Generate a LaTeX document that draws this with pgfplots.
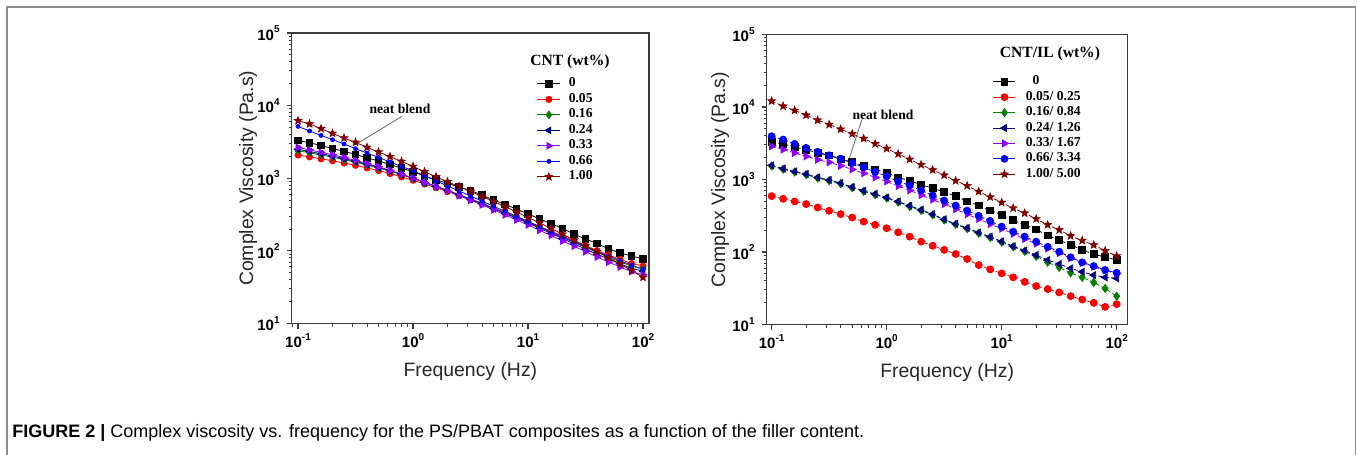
\documentclass[border=0pt]{standalone}
\usepackage{fontspec}
\setmainfont{Liberation Sans}
\newfontfamily\tnr{Liberation Serif}
\usepackage{pgfplots}
\usepackage{pgfplotstable}
\pgfplotsset{compat=1.18}

\definecolor{cblack}{RGB}{0,0,0}
\definecolor{cred}{RGB}{255,0,0}
\definecolor{cgreen}{RGB}{0,128,0}
\definecolor{cnavy}{RGB}{0,0,128}
\definecolor{cpurple}{RGB}{140,0,255}
\definecolor{cblue}{RGB}{0,0,255}
\definecolor{cwine}{RGB}{128,0,0}
\definecolor{axgray}{RGB}{60,60,60}

\pgfdeclareplotmark{fstar}{%
 \pgfpathmoveto{\pgfpointpolar{90}{1.3\pgfplotmarksize}}%
 \pgfpathlineto{\pgfpointpolar{126}{0.55\pgfplotmarksize}}%
 \pgfpathlineto{\pgfpointpolar{162}{1.3\pgfplotmarksize}}%
 \pgfpathlineto{\pgfpointpolar{198}{0.55\pgfplotmarksize}}%
 \pgfpathlineto{\pgfpointpolar{234}{1.3\pgfplotmarksize}}%
 \pgfpathlineto{\pgfpointpolar{270}{0.55\pgfplotmarksize}}%
 \pgfpathlineto{\pgfpointpolar{306}{1.3\pgfplotmarksize}}%
 \pgfpathlineto{\pgfpointpolar{342}{0.55\pgfplotmarksize}}%
 \pgfpathlineto{\pgfpointpolar{18}{1.3\pgfplotmarksize}}%
 \pgfpathlineto{\pgfpointpolar{54}{0.55\pgfplotmarksize}}%
 \pgfpathclose\pgfusepathqfillstroke}

\newcommand{\tickfont}{\bfseries\fontsize{7.5}{8}\selectfont}
\newcommand{\tlab}[1]{10\raisebox{0.5em}{\fontsize{5}{5}\selectfont #1}}
\newcommand{\labfont}{\fontsize{9.7}{11}\selectfont}
\newcommand{\legfont}{\tnr\bfseries\fontsize{6.8}{7}\selectfont}
\newcommand{\legtfont}{\tnr\bfseries\fontsize{7.8}{9}\selectfont}
\newcommand{\capfont}{\fontsize{9}{10}\selectfont}

\pgfplotstableread{
f c0 c05 c16 c24 c33 c66 c100
0.1 3311 2089 2399 2512 2661 5176 6209
0.1259 3090 1968 2239 2339 2460 4477 5598
0.1585 2818 1849 2094 2173 2275 3890 4819
0.1995 2570 1742 1954 2023 2109 3396 4150
0.2512 2344 1622 1803 1862 1928 2965 3581
0.3162 2138 1507 1667 1710 1762 2553 3119
0.3981 1905 1387 1521 1556 1592 2228 2661
0.5012 1738 1276 1387 1416 1439 1936 2296
0.6310 1549 1159 1253 1271 1285 1675 1982
0.7943 1380 1042 1117 1130 1138 1455 1706
1 1230 938 995 1005 1005 1268 1455
1.259 1072 832 879 881 877 1084 1230
1.585 955 740 774 774 766 923 1050
1.995 851 658 682 681 668 785 895
2.512 759 577 596 590 577 668 771
3.162 676 507 519 513 499 569 661
3.981 589 446 452 446 431 484 562
5.012 501 386 390 382 367 412 479
6.310 437 336 336 328 313 351 407
7.943 376 292 289 282 267 299 343
10 324 253 249 242 228 254 288
12.59 275 217 212 205 192 216 243
15.85 237 187 181 174 163 182 204
19.95 204 160 154 148 137 155 170
25.12 170 137 131 125 116 132 141
31.62 146 118 112 106 97.5 114 117
39.81 126 101 95.3 90.2 82.2 97.7 97.7
50.12 107 87.9 82.0 77.4 70.1 85.1 80.4
63.10 93.3 76.4 70.6 66.5 60.0 73.3 66.1
79.43 85.1 67.0 61.7 57.7 51.8 63.8 53.7
100 77.6 61.7 56.2 52.5 46.8 55.6 43.2
}\tabL

\pgfplotstableread{
f c0 c05 c16 c24 c33 c66 c100
0.1 3311 590 1536 1567 2871 3954 12078
0.1259 3090 542 1385 1413 2588 3556 10280
0.1585 2818 498 1268 1294 2328 3105 8974
0.1995 2570 458 1167 1191 2089 2729 7727
0.2512 2344 411 1048 1069 1879 2404 6592
0.3162 2138 370 964 984 1726 2158 5741
0.3981 1905 333 875 893 1549 1941 4943
0.5012 1738 299 771 787 1380 1694 4266
0.6310 1549 263 686 700 1216 1472 3673
0.7943 1380 237 617 630 1072 1271 3105
1 1230 213 554 565 938 1104 2673
1.259 1072 187 488 498 813 942 2254
1.585 955 163 425 434 708 828 1897
1.995 851 139 374 382 610 706 1603
2.512 759 122 326 333 527 603 1355
3.162 676 107 276 282 458 513 1148
3.981 589 93.8 240 245 389 437 962
5.012 501 80.0 210 214 331 372 820
6.310 437 66.1 182 186 285 316 684
7.943 376 57.5 159 162 243 269 573
10 324 50.7 137 140 209 224 482
12.59 275 44.7 118 120 178 191 403
15.85 237 38.8 102 105 151 163 344
19.95 204 33.8 87.1 90.8 130 139 286
25.12 170 30.8 72.4 77.4 112 118 237
31.62 146 27.7 61.4 68.2 96.6 101 202
39.81 126 24.6 51.6 59.4 82.2 84.5 167
50.12 107 22.1 44.7 53.3 70.8 71.9 144
63.10 93.3 19.9 38.0 48.0 62.4 64.0 125
79.43 85.1 17.5 31.4 44.7 55.6 56.4 104
100 77.6 19.1 24.6 43.3 50.1 51.6 88.1
}\tabR

\begin{document}
\begin{tikzpicture}
\useasboundingbox (0pt,0pt) rectangle (678.5pt,-227.5pt);
\draw[black!45, line width=0.75pt] (3.6pt,-228pt) -- (3.6pt,-3.6pt) -- (677.8pt,-3.6pt) -- (677.8pt,-228pt);

\begin{loglogaxis}[
  scale only axis,
  at={(145.85pt,-161.75pt)}, anchor=south west,
  width=178.65pt, height=145.25pt,
  xmin=0.0881, xmax=112.7, ymin=10, ymax=100000,
  axis line style={axgray, line width=0.75pt},
  major tick style={axgray, line width=0.6pt},
  minor tick style={axgray, line width=0.5pt},
  major tick length=2.5pt, minor tick length=1.5pt,
  tick align=outside, xtick pos=bottom, ytick pos=left,
  xtick={0.1,1,10,100},
  xticklabels={\tlab{-1},\tlab{0},\tlab{1},\tlab{2}},
  minor xtick={0.09,0.2,0.3,0.4,0.5,0.6,0.7,0.8,0.9,2,3,4,5,6,7,8,9,20,30,40,50,60,70,80,90},
  ytick={10,100,1000,10000,100000},
  yticklabels={\tlab{1},\tlab{2},\tlab{3},\tlab{4},\tlab{5}},
  minor ytick={20,30,40,50,60,70,80,90,200,300,400,500,600,700,800,900,2000,3000,4000,5000,6000,7000,8000,9000,20000,30000,40000,50000,60000,70000,80000,90000},
  xticklabel style={font=\tickfont, text=black, yshift=1.2pt},
  yticklabel style={font=\tickfont, text=black},
  xlabel={Frequency (Hz)}, ylabel={Complex Viscosity (Pa.s)},
  every axis y label/.style={at={(axis description cs:-0.1223,0.5)}, rotate=90, anchor=center, font=\labfont, text=black!85},
  every axis x label/.style={at={(axis description cs:0.5,-0.166)}, anchor=center, font=\labfont, text=black!85},
  legend cell align=left,
  legend style={at={(0.6865,0.8516)}, anchor=north west, draw=none, fill=none, inner sep=0pt, outer sep=0pt,
    font=\legfont, row sep=0pt, column sep=4pt,
    nodes={inner sep=0pt, text height=5.4pt, text depth=2.35pt}},
  legend image code/.code={\draw[mark repeat=2,mark phase=2,#1] plot coordinates {(0pt,0pt) (5.75pt,0pt) (11.5pt,0pt)};},
]
\addplot[line width=0.4pt, color=cblack, mark=square*, mark size=1.65pt] table[x=f,y=c0]{\tabL};
\addlegendentry{0}
\addplot[line width=0.4pt, color=cred, mark=*, mark size=1.55pt] table[x=f,y=c05]{\tabL};
\addlegendentry{0.05}
\addplot[line width=0.4pt, color=cgreen, mark=diamond*, mark size=1.9pt] table[x=f,y=c16]{\tabL};
\addlegendentry{0.16}
\addplot[line width=0.4pt, color=cnavy, mark=triangle*, mark size=1.9pt, mark options={rotate=90}] table[x=f,y=c24]{\tabL};
\addlegendentry{0.24}
\addplot[line width=0.4pt, color=cpurple, mark=triangle*, mark size=1.9pt, mark options={rotate=-90}] table[x=f,y=c33]{\tabL};
\addlegendentry{0.33}
\addplot[line width=0.4pt, color=cblue, mark=*, mark size=1.0pt] table[x=f,y=c66]{\tabL};
\addlegendentry{0.66}
\addplot[line width=0.4pt, color=cwine, mark=fstar, mark size=1.5pt] table[x=f,y=c100]{\tabL};
\addlegendentry{1.00}
\node[font=\legtfont] at (axis cs:23.2,40450) {CNT (wt\%)};
\node[font=\legfont, fill=white, inner sep=0.5pt] at (axis cs:0.77,9120) {neat blend};
\draw[black!60, line width=0.4pt] (axis cs:0.80,7110) -- (axis cs:0.326,2990);
\end{loglogaxis}

\begin{loglogaxis}[
  scale only axis,
  at={(383.35pt,-162.25pt)}, anchor=south west,
  width=180.5pt, height=145pt,
  xmin=0.0906, xmax=124.7, ymin=10, ymax=100000,
  axis line style={axgray, line width=0.75pt},
  major tick style={axgray, line width=0.6pt},
  minor tick style={axgray, line width=0.5pt},
  major tick length=2.5pt, minor tick length=1.5pt,
  tick align=outside, xtick pos=bottom, ytick pos=left,
  xtick={0.1,1,10,100},
  xticklabels={\tlab{-1},\tlab{0},\tlab{1},\tlab{2}},
  minor xtick={0.2,0.3,0.4,0.5,0.6,0.7,0.8,0.9,2,3,4,5,6,7,8,9,20,30,40,50,60,70,80,90},
  ytick={10,100,1000,10000,100000},
  yticklabels={\tlab{1},\tlab{2},\tlab{3},\tlab{4},\tlab{5}},
  minor ytick={20,30,40,50,60,70,80,90,200,300,400,500,600,700,800,900,2000,3000,4000,5000,6000,7000,8000,9000,20000,30000,40000,50000,60000,70000,80000,90000},
  xticklabel style={font=\tickfont, text=black, yshift=1.2pt},
  yticklabel style={font=\tickfont, text=black},
  xlabel={Frequency (Hz)}, ylabel={Complex Viscosity (Pa.s)},
  every axis y label/.style={at={(axis description cs:-0.1294,0.5)}, rotate=90, anchor=center, font=\labfont, text=black!85},
  every axis x label/.style={at={(axis description cs:0.5,-0.167)}, anchor=center, font=\labfont, text=black!85},
  legend cell align=left,
  legend style={at={(0.627,0.8634)}, anchor=north west, draw=none, fill=none, inner sep=0pt, outer sep=0pt,
    font=\legfont, row sep=0pt, column sep=5pt,
    nodes={inner sep=0pt, text height=5.4pt, text depth=2.3pt}},
  legend image code/.code={\draw[mark repeat=2,mark phase=2,#1,solid] plot coordinates {(0pt,0pt) (5.5pt,0pt) (11pt,0pt)};},
]
\addplot[line width=0.4pt, dash pattern=on 2pt off 1.2pt, color=cblack, mark=square*, mark size=1.65pt, mark options={solid}] table[x=f,y=c0]{\tabR};
\addlegendentry{\ \ 0}
\addplot[line width=0.4pt, dash pattern=on 2pt off 1.2pt, color=cred, mark=*, mark size=1.75pt, mark options={solid}] table[x=f,y=c05]{\tabR};
\addlegendentry{0.05/ 0.25}
\addplot[line width=0.4pt, dash pattern=on 2pt off 1.2pt, color=cgreen, mark=diamond*, mark size=2pt, mark options={solid}] table[x=f,y=c16]{\tabR};
\addlegendentry{0.16/ 0.84}
\addplot[line width=0.4pt, dash pattern=on 2pt off 1.2pt, color=cnavy, mark=triangle*, mark size=2pt, mark options={solid,rotate=90}] table[x=f,y=c24]{\tabR};
\addlegendentry{0.24/ 1.26}
\addplot[line width=0.4pt, dash pattern=on 2pt off 1.2pt, color=cpurple, mark=triangle*, mark size=2pt, mark options={solid,rotate=-90}] table[x=f,y=c33]{\tabR};
\addlegendentry{0.33/ 1.67}
\addplot[line width=0.4pt, dash pattern=on 2pt off 1.2pt, color=cblue, mark=*, mark size=1.75pt, mark options={solid}] table[x=f,y=c66]{\tabR};
\addlegendentry{0.66/ 3.34}
\addplot[line width=0.4pt, dash pattern=on 2pt off 1.2pt, color=cwine, mark=fstar, mark size=1.5pt, mark options={solid}] table[x=f,y=c100]{\tabR};
\addlegendentry{1.00/ 5.00}
\node[font=\legtfont] at (axis cs:26.3,53600) {CNT/IL (wt\%)};
\node[font=\legfont, fill=white, inner sep=0.5pt] at (axis cs:0.929,7910) {neat blend};
\draw[black!60, line width=0.4pt] (axis cs:0.61,6730) -- (axis cs:0.47,1880);
\end{loglogaxis}

\node[anchor=west, font=\capfont, inner sep=0pt] at (6pt,-216.5pt) {\textbf{FIGURE 2 |} Complex viscosity vs. frequency for the PS/PBAT composites as a function of the filler content.};
\end{tikzpicture}
\end{document}
